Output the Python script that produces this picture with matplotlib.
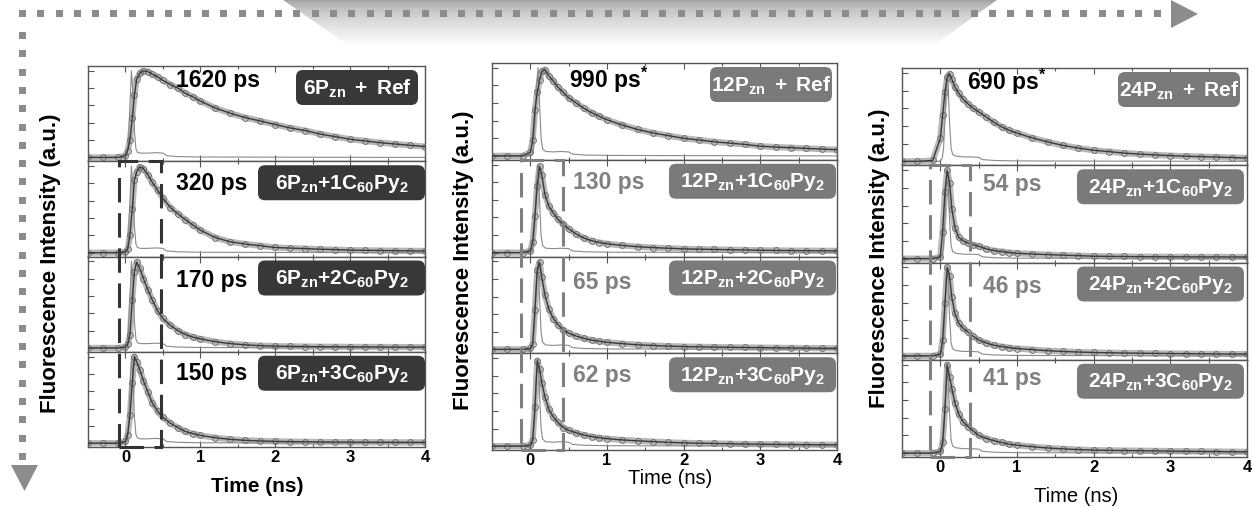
import numpy as np
import matplotlib
matplotlib.use('Agg')
import matplotlib.pyplot as plt
from matplotlib.patches import FancyBboxPatch, Rectangle, Polygon
from matplotlib.transforms import IdentityTransform, blended_transform_factory

plt.rcParams['font.family'] = ['Liberation Sans', 'DejaVu Sans']
plt.rcParams['mathtext.fontset'] = 'custom'
plt.rcParams['mathtext.rm'] = 'Liberation Sans'
plt.rcParams['mathtext.bf'] = 'Liberation Sans:bold'
plt.rcParams['mathtext.it'] = 'Liberation Sans:italic'

# ---------------- data (normalised fluorescence) ----------------
time_ns = [-0.5, -0.3, -0.1, 0.0, 0.03, 0.06, 0.09, 0.12, 0.15, 0.19, 0.24, 0.3, 0.36, 0.43,
           0.5, 0.6, 0.7, 0.8, 0.9, 1.0, 1.2, 1.4, 1.6, 1.8, 2.0, 2.2, 2.4, 2.6, 2.8, 3.0,
           3.2, 3.4, 3.6, 3.8, 4.0]

p6_ref = [0, 0, 0, 0.02, 0.08, 0.2, 0.45, 0.72, 0.9, 0.97, 1.0, 0.99, 0.96, 0.93,
          0.89, 0.84, 0.80, 0.74, 0.70, 0.65, 0.57, 0.51, 0.46, 0.42, 0.38, 0.34, 0.31,
          0.27, 0.24, 0.21, 0.19, 0.17, 0.155, 0.14, 0.125]
p6_c1 = [0, 0, 0, 0.01, 0.04, 0.2, 0.5, 0.84, 0.93, 0.99, 0.97, 0.90, 0.81, 0.72,
         0.63, 0.52, 0.45, 0.38, 0.32, 0.26, 0.175, 0.125, 0.10, 0.08, 0.06, 0.053, 0.047,
         0.04, 0.035, 0.03, 0.027, 0.025, 0.023, 0.021, 0.02]
p6_c2 = [0, 0, 0, 0.01, 0.04, 0.15, 0.55, 0.88, 0.99, 0.92, 0.80, 0.67, 0.55, 0.43,
         0.34, 0.26, 0.2, 0.155, 0.125, 0.105, 0.072, 0.05, 0.036, 0.026, 0.021, 0.018, 0.016,
         0.014, 0.013, 0.012, 0.011, 0.011, 0.01, 0.01, 0.01]
p6_c3 = [0, 0, 0, 0.02, 0.1, 0.32, 0.69, 1.0, 0.94, 0.85, 0.72, 0.59, 0.46, 0.37,
         0.30, 0.23, 0.18, 0.135, 0.11, 0.09, 0.063, 0.044, 0.033, 0.026, 0.021, 0.018, 0.016,
         0.014, 0.013, 0.012, 0.011, 0.011, 0.01, 0.01, 0.01]

p12_ref = [0, 0, 0, 0.04, 0.18, 0.52, 0.72, 0.86, 0.96, 0.98, 0.91, 0.85, 0.78, 0.72,
           0.66, 0.60, 0.54, 0.49, 0.45, 0.41, 0.35, 0.30, 0.26, 0.23, 0.20, 0.18, 0.16,
           0.145, 0.13, 0.11, 0.10, 0.093, 0.085, 0.077, 0.07]
p12_c1 = [0, 0, 0, 0.02, 0.12, 0.42, 0.76, 0.98, 0.88, 0.66, 0.53, 0.45, 0.38, 0.32,
          0.27, 0.21, 0.165, 0.135, 0.115, 0.10, 0.082, 0.067, 0.057, 0.05, 0.043, 0.039, 0.036,
          0.033, 0.03, 0.027, 0.025, 0.023, 0.022, 0.021, 0.02]
p12_c2 = [0, 0, 0, 0.01, 0.06, 0.45, 0.9, 0.99, 0.82, 0.62, 0.46, 0.35, 0.28, 0.22,
          0.185, 0.15, 0.125, 0.105, 0.092, 0.08, 0.065, 0.052, 0.044, 0.037, 0.032, 0.029, 0.026,
          0.024, 0.022, 0.02, 0.018, 0.016, 0.015, 0.013, 0.012]
p12_c3 = [0, 0, 0, 0.01, 0.07, 0.45, 0.97, 0.88, 0.72, 0.56, 0.42, 0.33, 0.27, 0.21,
          0.18, 0.15, 0.125, 0.108, 0.095, 0.085, 0.07, 0.06, 0.051, 0.043, 0.037, 0.033, 0.03,
          0.027, 0.024, 0.022, 0.02, 0.018, 0.017, 0.016, 0.015]

p24_ref = [0, 0, 0.01, 0.26, 0.52, 0.78, 0.95, 0.99, 0.93, 0.84, 0.77, 0.70, 0.65, 0.60,
           0.56, 0.50, 0.44, 0.39, 0.35, 0.32, 0.265, 0.22, 0.18, 0.15, 0.125, 0.11, 0.093,
           0.082, 0.073, 0.064, 0.058, 0.053, 0.048, 0.043, 0.038]
p24_c1 = [0, 0, 0, 0.02, 0.3, 0.75, 1.0, 0.86, 0.56, 0.35, 0.24, 0.2, 0.175, 0.155,
          0.14, 0.11, 0.09, 0.08, 0.068, 0.06, 0.052, 0.045, 0.039, 0.033, 0.027, 0.025, 0.024,
          0.022, 0.021, 0.02, 0.02, 0.019, 0.019, 0.018, 0.018]
p24_c2 = [0, 0, 0, 0.02, 0.18, 0.6, 1.0, 0.9, 0.66, 0.48, 0.37, 0.31, 0.27, 0.22,
          0.18, 0.145, 0.12, 0.105, 0.092, 0.083, 0.07, 0.058, 0.05, 0.043, 0.038, 0.035, 0.032,
          0.03, 0.028, 0.026, 0.025, 0.023, 0.022, 0.021, 0.02]
p24_c3 = [0, 0, 0, 0.02, 0.12, 0.5, 1.0, 0.86, 0.73, 0.57, 0.44, 0.35, 0.3, 0.25,
          0.2, 0.165, 0.14, 0.12, 0.1, 0.09, 0.072, 0.058, 0.048, 0.04, 0.034, 0.031, 0.029,
          0.027, 0.025, 0.023, 0.021, 0.019, 0.018, 0.016, 0.015]

# instrument response (thin line)
irf_time_ns = [-0.5, -0.02, 0.02, 0.04, 0.06, 0.08, 0.10, 0.12, 0.14, 0.16, 0.2, 0.3, 0.4,
               0.5, 0.55, 0.7, 1.0, 2.0, 4.0]
irf_p6 = [0, 0, 0.03, 0.2, 0.6, 1.0, 0.75, 0.3, 0.1, 0.06, 0.05, 0.05, 0.055, 0.05, 0.02,
          0.01, 0.005, 0.003, 0.0]
irf_p12 = [0, 0, 0.01, 0.08, 0.35, 0.8, 1.0, 0.6, 0.2, 0.08, 0.05, 0.045, 0.05, 0.045, 0.02,
           0.01, 0.005, 0.003, 0.0]
irf_p24 = [0, 0, 0.02, 0.12, 0.45, 0.95, 0.9, 0.45, 0.15, 0.08, 0.06, 0.05, 0.05, 0.045, 0.02,
           0.01, 0.005, 0.003, 0.0]

lifetimes_p6 = ['1620 ps', '320 ps', '170 ps', '150 ps']
lifetimes_p12 = [r'$\mathbf{990\ ps^{*}}$', '130 ps', '65 ps', '62 ps']
lifetimes_p24 = [r'$\mathbf{690\ ps^{*}}$', '54 ps', '46 ps', '41 ps']

samples_p6 = [r'$\mathbf{6P_{zn}\ +\ Ref}$', r'$\mathbf{6P_{zn}{+}1C_{60}Py_{2}}$',
              r'$\mathbf{6P_{zn}{+}2C_{60}Py_{2}}$', r'$\mathbf{6P_{zn}{+}3C_{60}Py_{2}}$']
samples_p12 = [r'$\mathbf{12P_{zn}\ +\ Ref}$', r'$\mathbf{12P_{zn}{+}1C_{60}Py_{2}}$',
               r'$\mathbf{12P_{zn}{+}2C_{60}Py_{2}}$', r'$\mathbf{12P_{zn}{+}3C_{60}Py_{2}}$']
samples_p24 = [r'$\mathbf{24P_{zn}\ +\ Ref}$', r'$\mathbf{24P_{zn}{+}1C_{60}Py_{2}}$',
               r'$\mathbf{24P_{zn}{+}2C_{60}Py_{2}}$', r'$\mathbf{24P_{zn}{+}3C_{60}Py_{2}}$']

window_lo_ns = [-0.09, -0.12, -0.14]
window_hi_ns = [0.47, 0.42, 0.39]

x_tick_values = [0, 1, 2, 3, 4]
x_tick_labels = ['0', '1', '2', '3', '4']
x_label = 'Time (ns)'
y_label = 'Fluorescence Intensity (a.u.)'

# ---------------- layout ----------------
W, H = 1252, 508
fig = plt.figure(figsize=(W / 100, H / 100), dpi=100)
fig.patch.set_facecolor('white')

def frac(x0, y0, x1, y1):
    return [x0 / W, 1 - y1 / H, (x1 - x0) / W, (y1 - y0) / H]

# background decorations: dotted arrows and shaded banner
bg = fig.add_axes([0, 0, 1, 1], zorder=-1)
bg.set_xlim(0, W)
bg.set_ylim(H, 0)
bg.axis('off')
sq_col = '#8c8c8c'
for x in np.arange(19, 1165, 18.3):
    bg.add_patch(Rectangle((x, 10), 7, 7, color=sq_col, lw=0))
for y in np.arange(32, 455, 18.3):
    bg.add_patch(Rectangle((19, y), 7, 7, color=sq_col, lw=0))
bg.add_patch(Polygon([(1171, 0), (1171, 28), (1198, 14)], closed=True, color=sq_col, lw=0))
bg.add_patch(Polygon([(11, 465), (38, 465), (24.5, 491)], closed=True, color=sq_col, lw=0))
grad = (0.63 + 0.37 * (np.linspace(0, 1, 60) ** 0.6)).reshape(-1, 1)
banner = Polygon([(283, 0), (997, 0), (930, 48), (352, 48)], closed=True,
                 facecolor='none', edgecolor='none', transform=bg.transData)
bg.add_patch(banner)
im = bg.imshow(grad, cmap='gray', vmin=0, vmax=1, extent=[283, 997, 48, 0],
               aspect='auto', interpolation='bilinear')
im.set_clip_path(banner)
bg.set_xlim(0, W)
bg.set_ylim(H, 0)

col_px = [(88, 66, 425, 447), (492, 63, 837, 450), (902, 68, 1247, 457)]
curves = [[p6_ref, p6_c1, p6_c2, p6_c3],
          [p12_ref, p12_c1, p12_c2, p12_c3],
          [p24_ref, p24_c1, p24_c2, p24_c3]]
irfs = [irf_p6, irf_p12, irf_p24]
lifetimes = [lifetimes_p6, lifetimes_p12, lifetimes_p24]
samples = [samples_p6, samples_p12, samples_p24]

box_col = ['#383838', '#7a7a7a', '#7a7a7a']
dash_col = ['#333333', '#808080', '#808080']
tau_gray = '#808080'
tau_x = [[0.26, 0.26, 0.26, 0.26], [0.223, 0.235, 0.235, 0.235], [0.188, 0.235, 0.235, 0.235]]
tau_y = [[0.85, 0.77, 0.75, 0.77], [0.825, 0.76, 0.73, 0.77], [0.86, 0.80, 0.75, 0.81]]
ref_off = [7, 5, 7]
oth_off = [0, 1, 3]
ylab_x = [51, 464, 879]
ylab_y0 = [413, 410, 408]
xlab_pos = [(257, 487), (670, 479), (1076, 496)]
xlab_weight = ['bold', 'normal', 'normal']
xlab_size = [15, 14.5, 14.5]

for c in range(3):
    x0, y0, x1, y1 = col_px[c]
    rh = (y1 - y0) / 4
    axes = []
    for r in range(4):
        ty = y0 + r * rh
        ax = fig.add_axes(frac(x0, ty, x1, ty + rh))
        axes.append(ax)
        y = curves[c][r]
        ax.plot(time_ns, y, color='#b8b8b8', lw=4.5, solid_capstyle='round', zorder=1)
        ax.plot(irf_time_ns, irfs[c], color='#8a8a8a', lw=0.8, zorder=2)
        ax.plot(time_ns, y, ls='none', marker='o', ms=4.2, mfc='none', mec='#707070',
                mew=0.7, zorder=3)
        ax.plot(time_ns, y, color='#3a3a3a', lw=1.0, zorder=4)
        ax.set_xlim(-0.5, 4)
        ax.set_ylim(-0.044, 1.055)
        ax.set_xticks(x_tick_values)
        ax.set_xticks(np.arange(-0.5, 4.01, 0.5), minor=True)
        ax.set_yticks([0, 0.2, 0.4, 0.6, 0.8, 1.0])
        ax.set_yticklabels([])
        ax.tick_params(which='both', direction='in', top=True, right=False,
                       color='#555555', width=0.8)
        ax.tick_params(which='major', length=4)
        ax.tick_params(which='minor', length=2.5)
        for sp in ax.spines.values():
            sp.set_color('#555555')
            sp.set_linewidth(1.0)
        if r < 3:
            ax.set_xticklabels([])
        else:
            ax.set_xticklabels(x_tick_labels, fontsize=12, fontweight='bold')
            ax.tick_params(axis='x', pad=2)
        # lifetime text
        tcol = 'black' if (c == 0 or r == 0) else tau_gray
        ax.text(tau_x[c][r], tau_y[c][r], lifetimes[c][r], transform=ax.transAxes,
                ha='left', va='center', fontsize=16.5, fontweight='bold', color=tcol, zorder=6)
        # sample label box (pixel coordinates)
        bw = 122 if r == 0 else 167
        off = ref_off[c] if r == 0 else oth_off[c]
        bx1 = x1 - off
        bx0 = bx1 - bw
        by0 = ty + 4
        bh = 35
        patch = FancyBboxPatch((bx0, H - (by0 + bh)), bw, bh,
                               boxstyle='round,pad=0,rounding_size=7',
                               transform=IdentityTransform(), facecolor=box_col[c],
                               edgecolor='none', zorder=5)
        fig.add_artist(patch)
        fig.text((bx0 + bw / 2) / W, 1 - (by0 + bh / 2 + 1) / H, samples[c][r],
                 ha='center', va='center', fontsize=15, color='white', zorder=6)
    # dashed time window spanning rows 2-4
    ybot = 1 - y1 / H
    ytop = 1 - (y0 + rh) / H
    tr = blended_transform_factory(axes[3].transData, fig.transFigure)
    rect = Rectangle((window_lo_ns[c], ybot), window_hi_ns[c] - window_lo_ns[c], ytop - ybot,
                     transform=tr, fill=False, edgecolor=dash_col[c], lw=2.2,
                     linestyle=(0, (8, 3.5)), zorder=7)
    fig.add_artist(rect)
    # axis labels
    fig.text(ylab_x[c] / W, 1 - ylab_y0[c] / H, y_label, rotation=90, ha='center',
             va='bottom', fontsize=16, fontweight='bold')
    fig.text(xlab_pos[c][0] / W, 1 - xlab_pos[c][1] / H, x_label, ha='center', va='center',
             fontsize=xlab_size[c], fontweight=xlab_weight[c])

fig.savefig('out.png', dpi=100)
